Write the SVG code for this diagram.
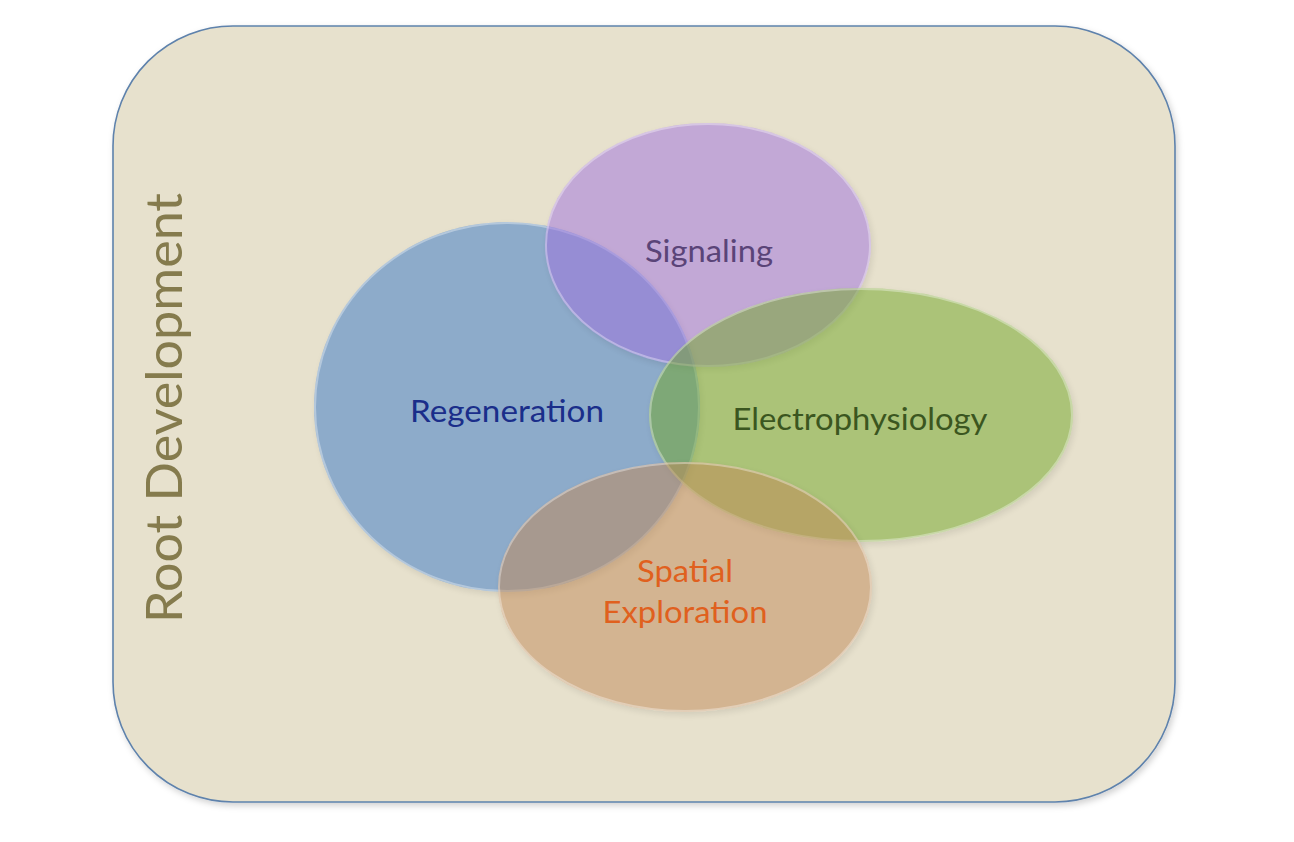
<svg xmlns="http://www.w3.org/2000/svg" width="1294" height="842" viewBox="0 0 1294 842">
  <defs>
    <style>
      .lbl { font-family: Lato, "Open Sans", "Liberation Sans", sans-serif; font-size: 30px; text-anchor: middle; }
      .venn { opacity: 0.5; stroke: none; }
      .rim { fill: none; stroke: #ffffff; stroke-opacity: 0.35; stroke-width: 2; }
    </style>
    <filter id="shadow" x="-10%" y="-10%" width="120%" height="120%">
      <feDropShadow dx="2" dy="3" stdDeviation="3" flood-color="#000000" flood-opacity="0.18"/>
    </filter>
  </defs>
  <rect width="1294" height="842" fill="#ffffff"/>
  <g id="root-development">
    <rect x="113" y="26" width="1062" height="776" rx="120" ry="120" fill="#E7E1CD" stroke="#5E82AC" stroke-width="1.6" filter="url(#shadow)"/>
    <text transform="translate(182,623) rotate(-90)" x="0" y="0" font-family="Lato, 'Open Sans', 'Liberation Sans', sans-serif" font-size="50" fill="#857B4D" textLength="430" lengthAdjust="spacingAndGlyphs">Root Development</text>
  </g>
  <g id="regeneration">
    <ellipse class="venn" cx="507" cy="407" rx="193" ry="185" fill="#3577C9" filter="url(#shadow)"/>
    <ellipse class="rim" cx="507" cy="407" rx="192" ry="184"/>
    <text class="lbl" x="507" y="422" fill="#1A2E8A" textLength="194" lengthAdjust="spacingAndGlyphs">Regeneration</text>
  </g>
  <g id="signaling">
    <ellipse class="venn" cx="708" cy="245" rx="163" ry="122" fill="#9F71DF" filter="url(#shadow)"/>
    <ellipse class="rim" cx="708" cy="245" rx="162" ry="121"/>
    <text class="lbl" x="709" y="262" fill="#5A4478" textLength="128" lengthAdjust="spacingAndGlyphs">Signaling</text>
  </g>
  <g id="electrophysiology">
    <ellipse class="venn" cx="861" cy="415" rx="212" ry="127" fill="#71A727" filter="url(#shadow)"/>
    <ellipse class="rim" cx="861" cy="415" rx="211" ry="126"/>
    <text class="lbl" x="860" y="430" fill="#3B5620" textLength="255" lengthAdjust="spacingAndGlyphs">Electrophysiology</text>
  </g>
  <g id="spatial-exploration">
    <ellipse class="venn" cx="685" cy="587" rx="187" ry="125" fill="#C18957" filter="url(#shadow)"/>
    <ellipse class="rim" cx="685" cy="587" rx="186" ry="124"/>
    <text class="lbl" x="685" y="582" fill="#E0601E" textLength="96" lengthAdjust="spacingAndGlyphs">Spatial</text>
    <text class="lbl" x="685" y="623" fill="#E0601E" textLength="165" lengthAdjust="spacingAndGlyphs">Exploration</text>
  </g>
</svg>
